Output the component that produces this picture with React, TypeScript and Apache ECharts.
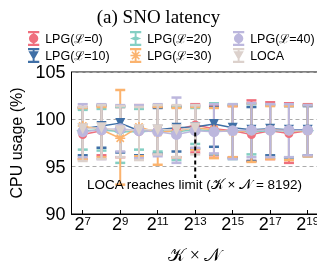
import React, { useEffect, useRef } from "react";
import * as echarts from "echarts";

const exps = [7, 8, 9, 10, 11, 12, 13, 14, 15, 16, 17, 18, 19];
const locaExps = [7, 8, 9, 10, 11, 12, 13];
const xTickExps = [7, 9, 11, 13, 15, 17, 19];

const seriesNames = ["LPG(ℒ=0)", "LPG(ℒ=10)", "LPG(ℒ=20)", "LPG(ℒ=30)", "LPG(ℒ=40)", "LOCA"];

const meanL0 = [98.4, 98.8, 98.9, 98.7, 98.9, 98.9, 99.4, 99.0, 98.8, 98.4, 98.8, 98.5, 98.8];
const highL0 = [101.3, 101.4, 101.3, 101.5, 101.3, 101.4, 101.6, 101.5, 101.4, 102.0, 101.8, 101.7, 101.6];
const lowL0 = [95.8, 96.2, 96.0, 95.9, 96.3, 96.0, 96.5, 96.2, 96.0, 95.6, 95.8, 95.4, 96.1];

const meanL10 = [99.0, 99.3, 99.6, 98.8, 98.9, 99.1, 99.2, 99.5, 99.1, 98.9, 99.0, 98.9, 98.9];
const highL10 = [101.2, 101.5, 101.4, 101.3, 101.2, 101.3, 101.4, 101.3, 101.5, 101.3, 101.5, 101.4, 101.4];
const lowL10 = [96.2, 97.0, 96.5, 96.2, 96.4, 96.6, 96.9, 97.1, 95.9, 95.6, 96.2, 95.9, 96.2];

const meanL20 = [98.8, 98.9, 98.7, 98.7, 98.8, 98.7, 98.9, 98.8, 98.8, 98.7, 98.8, 98.8, 98.8];
const highL20 = [101.0, 101.1, 101.3, 101.1, 101.5, 101.3, 101.2, 101.7, 101.6, 101.6, 101.6, 101.5, 101.5];
const lowL20 = [96.8, 96.7, 95.4, 96.8, 96.6, 95.7, 97.4, 96.3, 95.8, 96.3, 96.0, 96.0, 96.1];

const meanL30 = [99.3, 98.9, 98.0, 99.2, 98.6, 98.8, 99.1, 98.9, 98.7, 98.8, 98.9, 98.8, 98.8];
const highL30 = [101.2, 101.3, 103.1, 101.4, 101.3, 101.2, 101.3, 101.2, 101.4, 101.7, 101.4, 101.4, 101.5];
const lowL30 = [95.8, 96.0, 93.1, 96.1, 95.2, 96.0, 96.8, 95.9, 96.0, 95.5, 95.8, 95.7, 96.1];

const meanL40 = [98.7, 98.9, 99.0, 98.8, 98.7, 98.4, 98.8, 98.7, 98.8, 98.85, 98.85, 98.85, 98.85];
const highL40 = [101.6, 101.6, 101.5, 101.5, 101.6, 102.3, 101.5, 101.6, 101.6, 101.7, 101.6, 101.6, 101.5];
const lowL40 = [96.0, 95.8, 96.6, 95.9, 96.1, 95.4, 97.0, 96.4, 95.8, 96.0, 96.0, 96.0, 96.2];

const meanLOCA = [99.0, 99.1, 98.8, 98.9, 98.9, 98.9, 99.1];
const highLOCA = [101.3, 101.5, 101.4, 101.3, 101.5, 101.5, 101.5];
const lowLOCA = [95.6, 95.8, 96.0, 95.7, 96.3, 96.0, 96.3];

const limitExp = 13;
const limitLine = [98.6, 93.8];

const colors = ["#ef6f7d", "#3f6fa6", "#84cfc3", "#fbb36e", "#bcb7dd", "#dcd1cc"];

const capsStem = "M1,0 H13 V2.5 H1 Z M1,13.5 H13 V16 H1 Z M6,0 H8 V16 H6 Z ";
const circle = "M2,8 A5,5 0 1 1 12,8 A5,5 0 1 1 2,8 Z";
const triDown = "M1.5,3.5 H12.5 L7,13 Z";
const diamond = "M1,8 L7,5.5 L13,8 L7,10.5 Z";
const asterisk =
  "M1.5,7.2 H12.5 V8.8 H1.5 Z M6.2,2.5 H7.8 V13.5 H6.2 Z M2.4,4.6 L3.6,3.4 L11.6,11.4 L10.4,12.6 Z M10.4,3.4 L11.6,4.6 L3.6,12.6 L2.4,11.4 Z";

const markers = [circle, triDown, diamond, asterisk, circle, triDown];
const markerSizes = [9, 10, [13, 7], 10, 11, 11];

const FONT = "Liberation Sans, Arial, sans-serif";

export default function App() {
  const ref = useRef<HTMLDivElement>(null);
  useEffect(() => {
    if (!ref.current) return;
    const chart = echarts.init(ref.current, undefined, { renderer: "svg" });

    const allMeans = [meanL0, meanL10, meanL20, meanL30, meanL40, meanLOCA];
    const allHighs = [highL0, highL10, highL20, highL30, highL40, highLOCA];
    const allLows = [lowL0, lowL10, lowL20, lowL30, lowL40, lowLOCA];
    const allExps = [exps, exps, exps, exps, exps, locaExps];

    const series: any[] = [];
    seriesNames.forEach((name, si) => {
      const color = colors[si];
      series.push({
        type: "custom",
        name,
        z: 2,
        color,
        encode: { x: 0, y: [1, 2] },
        data: allExps[si].map((e, i) => [e, allLows[si][i], allHighs[si][i]]),
        renderItem: (params: any, api: any) => {
          const x = api.value(0);
          const pLo = api.coord([x, api.value(1)]);
          const pHi = api.coord([x, api.value(2)]);
          const hw = 5;
          return {
            type: "group",
            children: [
              { type: "line", shape: { x1: pLo[0], y1: pLo[1], x2: pHi[0], y2: pHi[1] }, style: { stroke: color, lineWidth: 2 } },
              { type: "line", shape: { x1: pHi[0] - hw, y1: pHi[1], x2: pHi[0] + hw, y2: pHi[1] }, style: { stroke: color, lineWidth: 2.5 } },
              { type: "line", shape: { x1: pLo[0] - hw, y1: pLo[1], x2: pLo[0] + hw, y2: pLo[1] }, style: { stroke: color, lineWidth: 2.5 } },
            ],
          };
        },
      });
    });
    seriesNames.forEach((name, si) => {
      series.push({
        type: "line",
        name,
        z: 3,
        color: colors[si],
        data: allExps[si].map((e, i) => [e, allMeans[si][i]]),
        symbol: "path://" + markers[si],
        symbolSize: markerSizes[si],
        lineStyle: { width: 1.5, color: colors[si] },
        itemStyle: { color: colors[si] },
      });
    });
    series.push({
      type: "line",
      name: "limit",
      z: 4,
      data: limitLine.map((v) => [limitExp, v]),
      symbol: "none",
      lineStyle: { color: "#000", width: 2, type: [4, 3] },
      silent: true,
    });

    const legendItem = (si: number) => ({
      name: seriesNames[si],
      icon: "path://" + capsStem + markers[si],
    });
    const legendBase = {
      orient: "vertical",
      itemGap: 2,
      itemWidth: 13,
      itemHeight: 15,
      padding: 0,
      textStyle: { fontSize: 12.5, fontFamily: FONT, color: "#000" },
    };

    chart.setOption({
      animation: false,
      title: {
        text: "(a) SNO latency",
        left: "center",
        top: 2,
        textStyle: { fontFamily: "Liberation Serif, Times New Roman, serif", fontSize: 19, fontWeight: "normal", color: "#000" },
      },
      legend: [
        { ...legendBase, left: 28, top: 31, data: [legendItem(0), legendItem(1)] },
        { ...legendBase, left: 130, top: 31, data: [legendItem(2), legendItem(3)] },
        { ...legendBase, left: 233, top: 31, data: [legendItem(4), legendItem(5)] },
      ],
      grid: {
        left: 71.5,
        top: 72,
        right: -1,
        bottom: 52,
        show: true,
        borderColor: "#000",
        borderWidth: 1,
        outerBoundsMode: "none",
        containLabel: false,
      },
      xAxis: {
        type: "value",
        min: 6.4,
        max: 19.55,
        axisLine: { lineStyle: { color: "#000" } },
        splitLine: { show: false },
        axisTick: { inside: true, length: 4, customValues: xTickExps, lineStyle: { color: "#000" } },
        axisLabel: {
          customValues: xTickExps,
          margin: 1,
          formatter: (v: number) => `{b|2}{s|${v}}`,
          rich: {
            b: { fontSize: 18, fontFamily: FONT, color: "#000", lineHeight: 18, verticalAlign: "bottom" },
            s: { fontSize: 11.5, fontFamily: FONT, color: "#000", lineHeight: 11, verticalAlign: "top" },
          },
        },
        name: "𝒦 × 𝒩",
        nameLocation: "middle",
        nameGap: 32,
        nameTextStyle: { fontSize: 18, fontFamily: "Liberation Serif, serif", color: "#000" },
      },
      yAxis: {
        type: "value",
        min: 90,
        max: 105,
        interval: 5,
        axisLine: { show: true, lineStyle: { color: "#000" } },
        axisTick: { show: false },
        splitLine: { show: true, lineStyle: { color: "#aaa", type: [4, 3], width: 1 } },
        axisLabel: { fontSize: 18, fontFamily: FONT, color: "#000", margin: 6 },
        name: "CPU usage (%)",
        nameLocation: "middle",
        nameGap: 44,
        nameTextStyle: { fontSize: 16, fontFamily: FONT, color: "#000" },
      },
      graphic: [
        {
          type: "text",
          left: 87,
          top: 177,
          style: { text: "LOCA reaches limit (𝒦 × 𝒩 = 8192)", fontSize: 13.5, fontFamily: FONT, fill: "#000" },
          z: 10,
        },
      ],
      series,
    });
    return () => chart.dispose();
  }, []);
  return <div ref={ref} style={{ position: "fixed", left: 0, top: 0, width: 317, height: 266 }} />;
}
